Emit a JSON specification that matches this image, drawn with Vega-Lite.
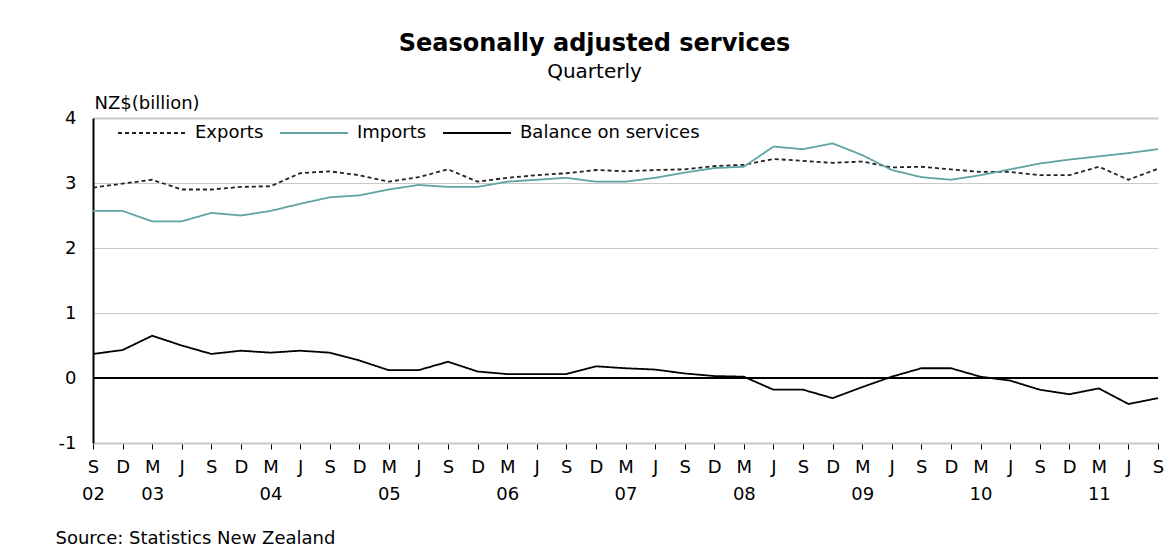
{
  "$schema": "https://vega.github.io/schema/vega-lite/v6.json",
  "width": 1065,
  "height": 325,
  "autosize": {"type": "none"},
  "padding": {"left": 93, "top": 118, "right": 18, "bottom": 105},
  "background": "white",
  "title": {
    "text": "Seasonally adjusted services",
    "subtitle": "Quarterly",
    "anchor": "middle",
    "dx": -31,
    "offset": 12,
    "font": "DejaVu Sans",
    "fontSize": 24,
    "fontWeight": "bold",
    "color": "black",
    "subtitleFont": "DejaVu Sans",
    "subtitleFontSize": 20,
    "subtitleColor": "black",
    "subtitlePadding": 6
  },
  "data": {
    "values": [
      {"quarter": "Sep 2002", "Exports": 2.93, "Imports": 2.57, "Balance on services": 0.37},
      {"quarter": "Dec 2002", "Exports": 2.99, "Imports": 2.57, "Balance on services": 0.43},
      {"quarter": "Mar 2003", "Exports": 3.05, "Imports": 2.41, "Balance on services": 0.65},
      {"quarter": "Jun 2003", "Exports": 2.90, "Imports": 2.41, "Balance on services": 0.50},
      {"quarter": "Sep 2003", "Exports": 2.90, "Imports": 2.54, "Balance on services": 0.37},
      {"quarter": "Dec 2003", "Exports": 2.94, "Imports": 2.50, "Balance on services": 0.42},
      {"quarter": "Mar 2004", "Exports": 2.95, "Imports": 2.57, "Balance on services": 0.39},
      {"quarter": "Jun 2004", "Exports": 3.15, "Imports": 2.68, "Balance on services": 0.42},
      {"quarter": "Sep 2004", "Exports": 3.18, "Imports": 2.78, "Balance on services": 0.39},
      {"quarter": "Dec 2004", "Exports": 3.12, "Imports": 2.81, "Balance on services": 0.27},
      {"quarter": "Mar 2005", "Exports": 3.02, "Imports": 2.90, "Balance on services": 0.12},
      {"quarter": "Jun 2005", "Exports": 3.09, "Imports": 2.97, "Balance on services": 0.12},
      {"quarter": "Sep 2005", "Exports": 3.21, "Imports": 2.94, "Balance on services": 0.25},
      {"quarter": "Dec 2005", "Exports": 3.02, "Imports": 2.94, "Balance on services": 0.10},
      {"quarter": "Mar 2006", "Exports": 3.08, "Imports": 3.02, "Balance on services": 0.06},
      {"quarter": "Jun 2006", "Exports": 3.12, "Imports": 3.05, "Balance on services": 0.06},
      {"quarter": "Sep 2006", "Exports": 3.15, "Imports": 3.08, "Balance on services": 0.06},
      {"quarter": "Dec 2006", "Exports": 3.20, "Imports": 3.02, "Balance on services": 0.18},
      {"quarter": "Mar 2007", "Exports": 3.18, "Imports": 3.02, "Balance on services": 0.15},
      {"quarter": "Jun 2007", "Exports": 3.20, "Imports": 3.08, "Balance on services": 0.13},
      {"quarter": "Sep 2007", "Exports": 3.21, "Imports": 3.16, "Balance on services": 0.07},
      {"quarter": "Dec 2007", "Exports": 3.26, "Imports": 3.23, "Balance on services": 0.03},
      {"quarter": "Mar 2008", "Exports": 3.28, "Imports": 3.25, "Balance on services": 0.02},
      {"quarter": "Jun 2008", "Exports": 3.37, "Imports": 3.56, "Balance on services": -0.18},
      {"quarter": "Sep 2008", "Exports": 3.34, "Imports": 3.52, "Balance on services": -0.18},
      {"quarter": "Dec 2008", "Exports": 3.31, "Imports": 3.61, "Balance on services": -0.31},
      {"quarter": "Mar 2009", "Exports": 3.33, "Imports": 3.43, "Balance on services": -0.14},
      {"quarter": "Jun 2009", "Exports": 3.24, "Imports": 3.20, "Balance on services": 0.02},
      {"quarter": "Sep 2009", "Exports": 3.25, "Imports": 3.09, "Balance on services": 0.15},
      {"quarter": "Dec 2009", "Exports": 3.21, "Imports": 3.05, "Balance on services": 0.15},
      {"quarter": "Mar 2010", "Exports": 3.17, "Imports": 3.12, "Balance on services": 0.02},
      {"quarter": "Jun 2010", "Exports": 3.17, "Imports": 3.21, "Balance on services": -0.04},
      {"quarter": "Sep 2010", "Exports": 3.12, "Imports": 3.30, "Balance on services": -0.18},
      {"quarter": "Dec 2010", "Exports": 3.12, "Imports": 3.36, "Balance on services": -0.25},
      {"quarter": "Mar 2011", "Exports": 3.25, "Imports": 3.41, "Balance on services": -0.16},
      {"quarter": "Jun 2011", "Exports": 3.05, "Imports": 3.46, "Balance on services": -0.40},
      {"quarter": "Sep 2011", "Exports": 3.22, "Imports": 3.52, "Balance on services": -0.31}
    ]
  },
  "transform": [
    {"fold": ["Exports", "Imports", "Balance on services"], "as": ["series", "value"]}
  ],
  "layer": [
    {
      "mark": {"type": "line", "strokeWidth": 1.8, "interpolate": "linear"},
      "encoding": {
        "x": {
          "field": "quarter",
          "type": "ordinal",
          "sort": null,
          "scale": {"type": "point", "padding": 0},
          "axis": {
            "labelAngle": 0,
            "labelExpr": "[substring(datum.value, 0, 1), (indexof(datum.value, 'Mar') == 0 || datum.value == 'Sep 2002') ? substring(datum.value, 6, 8) : '']",
            "labelOverlap": false,
            "labelFlush": false,
            "labelBound": false,
            "labelPadding": 9,
            "labelBaseline": "top",
            "labelLineHeight": 27,
            "labelFont": "DejaVu Sans",
            "labelFontSize": 18,
            "labelColor": "black",
            "domainColor": "#c8c8c8",
            "domainWidth": 2,
            "ticks": true,
            "tickColor": "black",
            "tickSize": 6,
            "tickWidth": 1,
            "grid": false,
            "title": "Source: Statistics New Zealand",
            "titleX": -38,
            "titleY": 100,
            "titleAlign": "left",
            "titleBaseline": "alphabetic",
            "titleFont": "DejaVu Sans",
            "titleFontSize": 18,
            "titleFontWeight": "normal",
            "titleColor": "black"
          }
        },
        "y": {
          "field": "value",
          "type": "quantitative",
          "scale": {"domain": [-1, 4], "nice": false, "zero": false},
          "axis": {
            "values": [-1, 0, 1, 2, 3, 4],
            "labelExpr": "datum.value < 0 ? '-' + abs(datum.value) : '' + datum.value",
            "ticks": false,
            "tickSize": 0,
            "labelPadding": 17,
            "labelFont": "DejaVu Sans",
            "labelFontSize": 18,
            "labelColor": "black",
            "domainColor": "black",
            "domainWidth": 2,
            "grid": true,
            "gridColor": "#c8c8c8",
            "gridWidth": {"condition": {"test": "datum.value == 4", "value": 2}, "value": 1},
            "title": "NZ$(billion)",
            "titleAngle": 0,
            "titleX": 1,
            "titleY": -10,
            "titleAlign": "left",
            "titleBaseline": "alphabetic",
            "titleFont": "DejaVu Sans",
            "titleFontSize": 18,
            "titleFontWeight": "normal",
            "titleColor": "black"
          }
        },
        "color": {
          "field": "series",
          "type": "nominal",
          "scale": {
            "domain": ["Exports", "Imports", "Balance on services"],
            "range": ["#222222", "#5fa3a3", "#000000"]
          },
          "legend": {"title": null}
        },
        "strokeDash": {
          "field": "series",
          "type": "nominal",
          "scale": {
            "domain": ["Exports", "Imports", "Balance on services"],
            "range": [[4, 3], [1, 0], [1, 0]]
          },
          "legend": {"title": null}
        }
      }
    },
    {
      "mark": {"type": "rule", "color": "black", "strokeWidth": 2},
      "encoding": {"y": {"datum": 0, "type": "quantitative"}}
    }
  ],
  "config": {
    "view": {"stroke": null},
    "legend": {
      "orient": "none",
      "legendX": 24,
      "legendY": -20,
      "direction": "horizontal",
      "columns": 3,
      "padding": 0,
      "symbolType": "stroke",
      "symbolSize": 4624,
      "symbolStrokeWidth": 1.8,
      "labelFont": "DejaVu Sans",
      "labelFontSize": 18,
      "labelColor": "black",
      "labelOffset": 8,
      "labelLimit": 0,
      "columnPadding": 12
    }
  }
}
